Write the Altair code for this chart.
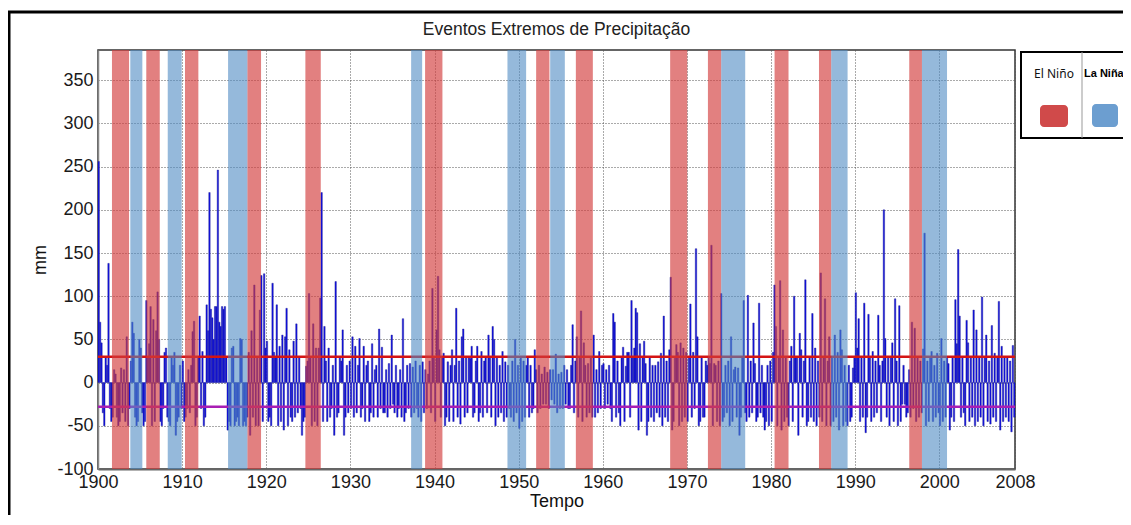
import altair as alt
import pandas as pd

titulo = "Eventos Extremos de Precipitação"
ano_inicial = 1900

# anomalias de precipitação (mm), 6 valores por ano (bimestral), 1900-2008
anomalias = [
    [256, 70, 46, -35, -50, 30],    # 1900
    [20, 138, -30, -45, -40, 15],
    [10, -40, -50, -45, 17, -35],
    [15, -45, 53, -50, -30, 25],
    [70, 57, -40, -50, -45, 50],
    [40, -35, -50, -45, 95, 30],
    [45, 88, -50, 73, -45, 60],
    [105, 50, -45, -50, -30, 35],
    [40, -40, -45, -50, 30, 20],
    [35, -61, -45, -40, 20, -30],
    [25, -45, -40, -30, 15, -35],   # 1910
    [20, 59, 71, -50, -40, 30],
    [77, -30, 36, -50, -40, 90],
    [60, 220, 85, 75, 50, 88],
    [88, 246, 70, 65, 88, 85],
    [88, 30, -55, -45, -50, 40],
    [42, -50, -45, -40, -50, 51],
    [50, -50, -45, -50, -40, 35],
    [-61, 60, -40, 113, -50, 30],
    [-50, 84, 124, -45, 126, 40],
    [48, -45, -40, -50, 115, 35],   # 1920
    [30, 90, -50, 42, -45, 55],
    [-55, 53, 86, -50, 38, -40],
    [-45, 48, -40, 68, -35, 30],
    [-30, -61, -45, -40, 19, 25],
    [103, 30, -50, 68, -45, 40],
    [-50, 40, 98, 220, -45, 65],
    [25, -45, 40, -40, -30, 20],
    [-61, 117, -40, -35, 30, 25],
    [61, -61, -40, 20, -35, 25],
    [-30, 53, -40, 42, -35, 20],    # 1930
    [51, -40, -30, 42, -45, 20],
    [25, -45, -35, 45, -40, 15],
    [20, -40, 62, -30, 41, -35],
    [-35, 15, -40, 22, -30, 55],
    [-25, -35, 20, -40, -30, 15],
    [-40, 74, -45, -35, 20, -30],
    [22, -40, 18, -35, 25, -30],
    [-40, 20, -45, 24, -35, 15],
    [-30, 10, 25, -35, 109, 30],
    [-45, 61, 123, 38, -40, 30],    # 1940
    [34, -50, -40, 24, -45, 20],
    [38, -45, 20, 86, -40, 25],
    [-48, 53, 62, -40, 30, -35],
    [30, 28, 42, -40, -35, 25],
    [42, -45, -35, 36, -40, 25],
    [30, -35, 55, 30, -40, 65],
    [50, -50, 30, -40, 20, -35],
    [36, -45, 24, -40, 20, -30],
    [-40, 25, -45, 50, -35, 20],
    [-53, 30, -45, 25, -40, 20],    # 1950
    [30, -40, 20, -35, -30, 38],
    [15, -35, 20, -30, 10, -25],
    [18, -25, 12, -30, 15, -20],
    [15, -25, 33, -35, 10, -30],
    [12, -30, 20, -25, 15, -30],
    [-30, 20, 67, -35, 25, 53],
    [-40, 30, 83, -45, 46, 20],
    [-40, 22, -35, 30, -40, 55],
    [-40, 15, -35, 36, -30, 20],
    [22, -30, 15, -25, 20, -30],    # 1960
    [-45, 80, 70, -40, 25, -35],
    [-50, 30, 41, -45, 19, 35],
    [35, -40, 95, 30, 40, 86],
    [81, -55, 45, -45, 30, 48],
    [22, -61, -45, 30, -40, 20],
    [-45, 20, -35, 24, -40, 34],
    [-50, 77, -40, 25, -45, 38],
    [122, -55, -45, 30, 44, 35],
    [-50, 46, -45, 40, -40, 35],
    [-45, 30, 91, -40, 35, -30],    # 1970
    [155, 53, -50, -45, 30, -40],
    [-40, 25, 20, 30, 22, 159],
    [-50, 22, 20, -45, 25, -50],
    [103, -45, -40, 20, -35, 25],
    [-50, 53, -45, 15, 18, -40],
    [17, -61, -40, 30, 95, -35],
    [-45, 101, -40, 25, -35, 69],
    [22, -45, -40, 92, -35, 20],
    [-40, -55, -45, 20, -50, 25],
    [-45, 35, 113, 65, -50, 30],    # 1980
    [118, -55, 61, -45, 30, -40],
    [-50, 25, 42, -45, 100, 30],
    [30, -61, 57, 38, -40, 25],
    [119, -50, -45, 30, -40, 80],
    [-45, 40, -50, 25, -40, 127],
    [-45, 30, 97, -50, 25, 53],
    [-50, 30, -45, 55, -40, 35],
    [-55, 61, 38, -50, 20, -45],
    [-50, 20, -45, -40, 17, 30],
    [104, 40, 74, -45, 30, -40],    # 1990
    [92, -58, -40, 79, 30, -45],
    [36, -40, 25, -35, 78, 20],
    [-45, 25, 200, 51, -40, 30],
    [-50, 30, 46, -45, 97, 25],
    [-50, 89, -45, -25, 20, -25],
    [-40, -35, 15, -40, 70, -30],
    [63, -45, 30, -40, 25, -35],
    [39, 173, -50, 25, -45, 30],
    [36, -45, 20, -40, 34, -35],
    [-50, 51, -45, 25, -40, 30],    # 2000
    [22, -55, -40, 30, -45, 96],
    [45, 154, 77, -40, 30, -35],
    [-50, 72, 46, -45, 30, -40],
    [84, -50, 61, -45, 30, -40],
    [99, -50, 30, 55, -45, 25],
    [-48, 66, -40, 34, -45, 30],
    [94, -55, 42, -45, 30, -40],
    [30, -45, 25, -57, 43, -40],    # 2008
]

el_nino_inicio = [1901.66, 1905.74, 1910.34, 1917.75, 1924.65, 1938.88, 1952.08, 1956.80,
                  1968.01, 1972.50, 1980.42, 1985.70, 1996.43]
el_nino_fim = [1903.69, 1907.34, 1911.93, 1919.38, 1926.48, 1940.94, 1953.66, 1958.82,
               1970.04, 1974.08, 1982.08, 1987.16, 1997.94]
la_nina_inicio = [1903.84, 1908.29, 1915.46, 1937.22, 1948.67, 1953.75, 1974.08, 1987.16, 1997.94]
la_nina_fim = [1905.27, 1909.95, 1917.75, 1938.53, 1950.89, 1955.49, 1976.93, 1989.10, 2000.92]

limiar_superior = 30
limiar_inferior = -28

ticks_x = [1900, 1910, 1920, 1930, 1940, 1950, 1960, 1970, 1980, 1990, 2000, 2009]
ticks_y = [-100, -50, 0, 50, 100, 150, 200, 250, 300, 350]
legenda_nomes = ["El Niño", "La Niña"]

# ---------------------------------------------------------------- tables
rows = []
for k, vals in enumerate(anomalias):
    n = len(vals)
    for j, v in enumerate(vals):
        t = ano_inicial + k + j / n
        rows.append({"t": t, "t2": t + 1.0 / n, "v": v})
df = pd.DataFrame(rows)

df_nino = pd.DataFrame({"inicio": el_nino_inicio, "fim": el_nino_fim})
df_nina = pd.DataFrame({"inicio": la_nina_inicio, "fim": la_nina_fim})

W, H = 917, 419
FONT = "Liberation Sans"
xs = alt.Scale(domain=[1900, 2009], nice=False, zero=False)
ys = alt.Scale(domain=[-100, 385], nice=False, zero=False)

x_axis = alt.Axis(values=ticks_x, format="d",
                  labelExpr="datum.value == 2009 ? '2008' : datum.label",
                  labelFlush=False, labelOverlap=False,
                  title="Tempo", titlePadding=1, labelPadding=4, ticks=False,
                  grid=True, gridDash=[1, 2], gridColor="#555", gridWidth=1,
                  domainColor="#666", domainWidth=2)
y_axis = alt.Axis(values=ticks_y,
                  labelExpr="replace(datum.label, '\u2212', '-')",
                  labelFlush=False, labelOverlap=False,
                  title="mm", titlePadding=7, labelPadding=5, ticks=False,
                  grid=True, gridDash=[1, 2], gridColor="#555", gridWidth=1,
                  domainColor="#888", domainWidth=1.5)

bars = alt.Chart(df).mark_bar(fill="#0b0bea", stroke="#25258f", strokeWidth=0.45).encode(
    x=alt.X("t:Q", scale=xs, axis=x_axis),
    x2="t2:Q",
    y=alt.Y("v:Q", scale=ys, axis=y_axis),
    y2=alt.datum(0),
)

rule_sup = alt.Chart(pd.DataFrame({"y": [limiar_superior]})).mark_rule(
    color="#d41414", strokeWidth=2.5).encode(y=alt.Y("y:Q", scale=ys))
rule_inf = alt.Chart(pd.DataFrame({"y": [limiar_inferior]})).mark_rule(
    color="#a81eb4", strokeWidth=2.5).encode(y=alt.Y("y:Q", scale=ys))

band_nino = alt.Chart(df_nino).mark_rect(color="#d23c3c", opacity=0.65).encode(
    x=alt.X("inicio:Q", scale=xs), x2="fim:Q", y=alt.value(0), y2=alt.value(H))
band_nina = alt.Chart(df_nina).mark_rect(color="#4f8ac3", opacity=0.6).encode(
    x=alt.X("inicio:Q", scale=xs), x2="fim:Q", y=alt.value(0), y2=alt.value(H))

one = pd.DataFrame({"a": [0]})

# chart title as text (placed above the plot)
title_txt = alt.Chart(pd.DataFrame({"titulo": [titulo]})).mark_text(
    font=FONT, fontSize=17.5, align="center", baseline="middle", color="#222").encode(
    text="titulo:N", x=alt.value(W / 2), y=alt.value(-20))

# outer frame (decoration)
frame_top = alt.Chart(one).mark_rule(color="#000", strokeWidth=3).encode(
    x=alt.value(-90), x2=alt.value(1045), y=alt.value(-38))
frame_left = alt.Chart(one).mark_rule(color="#000", strokeWidth=3).encode(
    x=alt.value(-89), y=alt.value(-38), y2=alt.value(480))

# legend box (decoration)
leg_box = alt.Chart(one).mark_rect(fill="white", stroke="#000", strokeWidth=2).encode(
    x=alt.value(923), x2=alt.value(1045), y=alt.value(2), y2=alt.value(88))
leg_div = alt.Chart(one).mark_rule(color="#999", strokeWidth=1).encode(
    x=alt.value(984), y=alt.value(2), y2=alt.value(88))
leg_t1 = alt.Chart(pd.DataFrame({"nome": [legenda_nomes[0]]})).mark_text(
    font="Noto Sans", fontSize=12, align="center", baseline="middle", color="#111").encode(
    text="nome:N", x=alt.value(956), y=alt.value(24))
leg_t2 = alt.Chart(pd.DataFrame({"nome": [legenda_nomes[1]]})).mark_text(
    font=FONT, fontSize=11, fontWeight="bold", align="left", baseline="middle",
    color="#000").encode(text="nome:N", x=alt.value(986), y=alt.value(24))
leg_s1 = alt.Chart(one).mark_rect(fill="#d04a4a", cornerRadius=4).encode(
    x=alt.value(942), x2=alt.value(970), y=alt.value(55), y2=alt.value(77))
leg_s2 = alt.Chart(one).mark_rect(fill="#6c9ed0", cornerRadius=4).encode(
    x=alt.value(994), x2=alt.value(1020), y=alt.value(54), y2=alt.value(77))

chart = alt.layer(
    bars, rule_sup, rule_inf, band_nino, band_nina, title_txt,
    frame_top, frame_left, leg_box, leg_div, leg_t1, leg_t2, leg_s1, leg_s2,
).properties(
    width=W, height=H,
    autosize=alt.AutoSizeParams(type="none"),
    padding={"left": 90, "top": 42, "right": 108, "bottom": 46},
).configure_view(
    stroke="#333", strokeWidth=1.5
).configure_axis(
    labelFont=FONT, labelFontSize=18, labelColor="#1a1a1a",
    titleFont=FONT, titleFontSize=18, titleFontWeight="normal", titleColor="#111",
)

chart.save("out.html", embed_options={"renderer": "svg", "actions": False})
